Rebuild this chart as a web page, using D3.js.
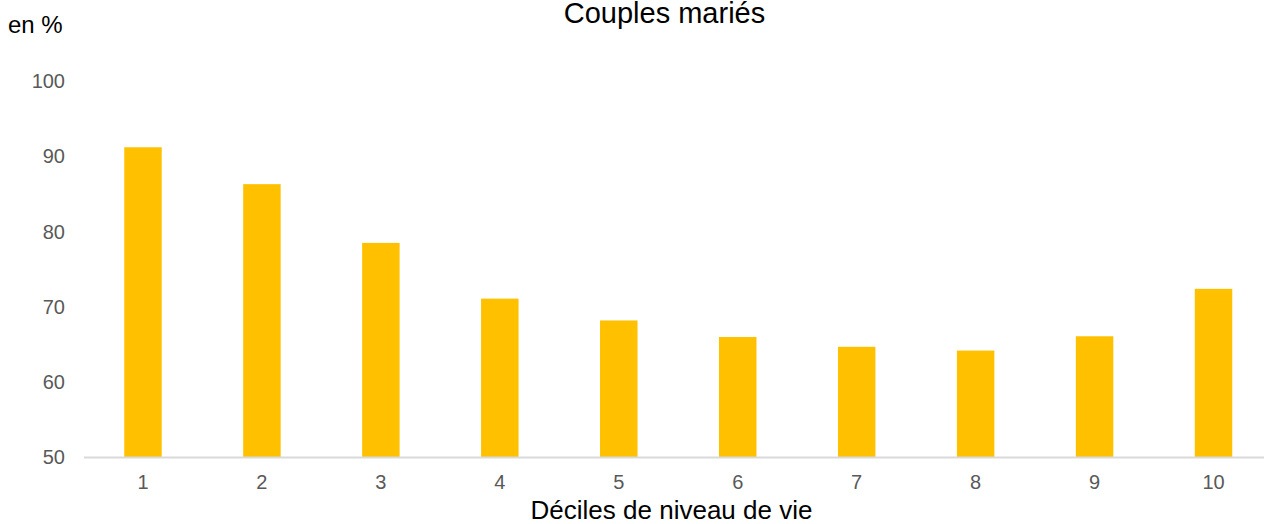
<!DOCTYPE html>
<html><head><meta charset="utf-8">
<script src="https://cdn.jsdelivr.net/npm/d3@7"></script>
<style>body{margin:0;background:#fff;}svg{display:block;font-family:"Liberation Sans",Arial,sans-serif;}</style>
</head><body>
<script>
const categories = ["1","2","3","4","5","6","7","8","9","10"];
const values = [91.2, 86.3, 78.5, 71.1, 68.2, 66.0, 64.7, 64.2, 66.1, 72.4];
const yTicks = [50, 60, 70, 80, 90, 100];
const title = "Couples mariés";
const xTitle = "Déciles de niveau de vie";
const yUnit = "en %";

const W = 1264, H = 524;
const svg = d3.select("body").append("svg").attr("width", W).attr("height", H);
const x = d3.scaleBand().domain(categories).range([83.5, 1273]).paddingInner(0.685).paddingOuter(0.3425);
const y = d3.scaleLinear().domain([50, 100]).range([457.5, 81]);

svg.append("g").selectAll("rect").data(values).join("rect")
  .attr("x", (d,i) => x(categories[i])).attr("width", x.bandwidth())
  .attr("y", d => y(d)).attr("height", d => y(50) - y(d))
  .attr("fill", "#FFC000");

const yAxis = svg.append("g").attr("transform", "translate(65,0)")
  .call(d3.axisLeft(y).tickValues(yTicks).tickSize(0).tickPadding(0));
yAxis.select(".domain").remove();
yAxis.selectAll("text").attr("font-size", 20).attr("fill", "#595959").attr("font-family", "Liberation Sans, Arial, sans-serif");

const xAxis = svg.append("g").attr("transform", `translate(0,${y(50)})`)
  .call(d3.axisBottom(x).tickSize(0).tickPadding(17));
xAxis.select(".domain").attr("stroke", "#d9d9d9").attr("stroke-width", 2).attr("d", `M84,0H${W}`);
xAxis.selectAll("text").attr("font-size", 20).attr("fill", "#595959").attr("font-family", "Liberation Sans, Arial, sans-serif");

svg.append("text").attr("x", 664.5).attr("y", 22.5).attr("text-anchor", "middle")
  .attr("font-size", 29).attr("fill", "#000").text(title);
svg.append("text").attr("x", 671.5).attr("y", 518.5).attr("text-anchor", "middle")
  .attr("font-size", 26).attr("fill", "#000").text(xTitle);
svg.append("text").attr("x", 8).attr("y", 33)
  .attr("font-size", 24).attr("fill", "#000").text(yUnit);
</script>
</body></html>
